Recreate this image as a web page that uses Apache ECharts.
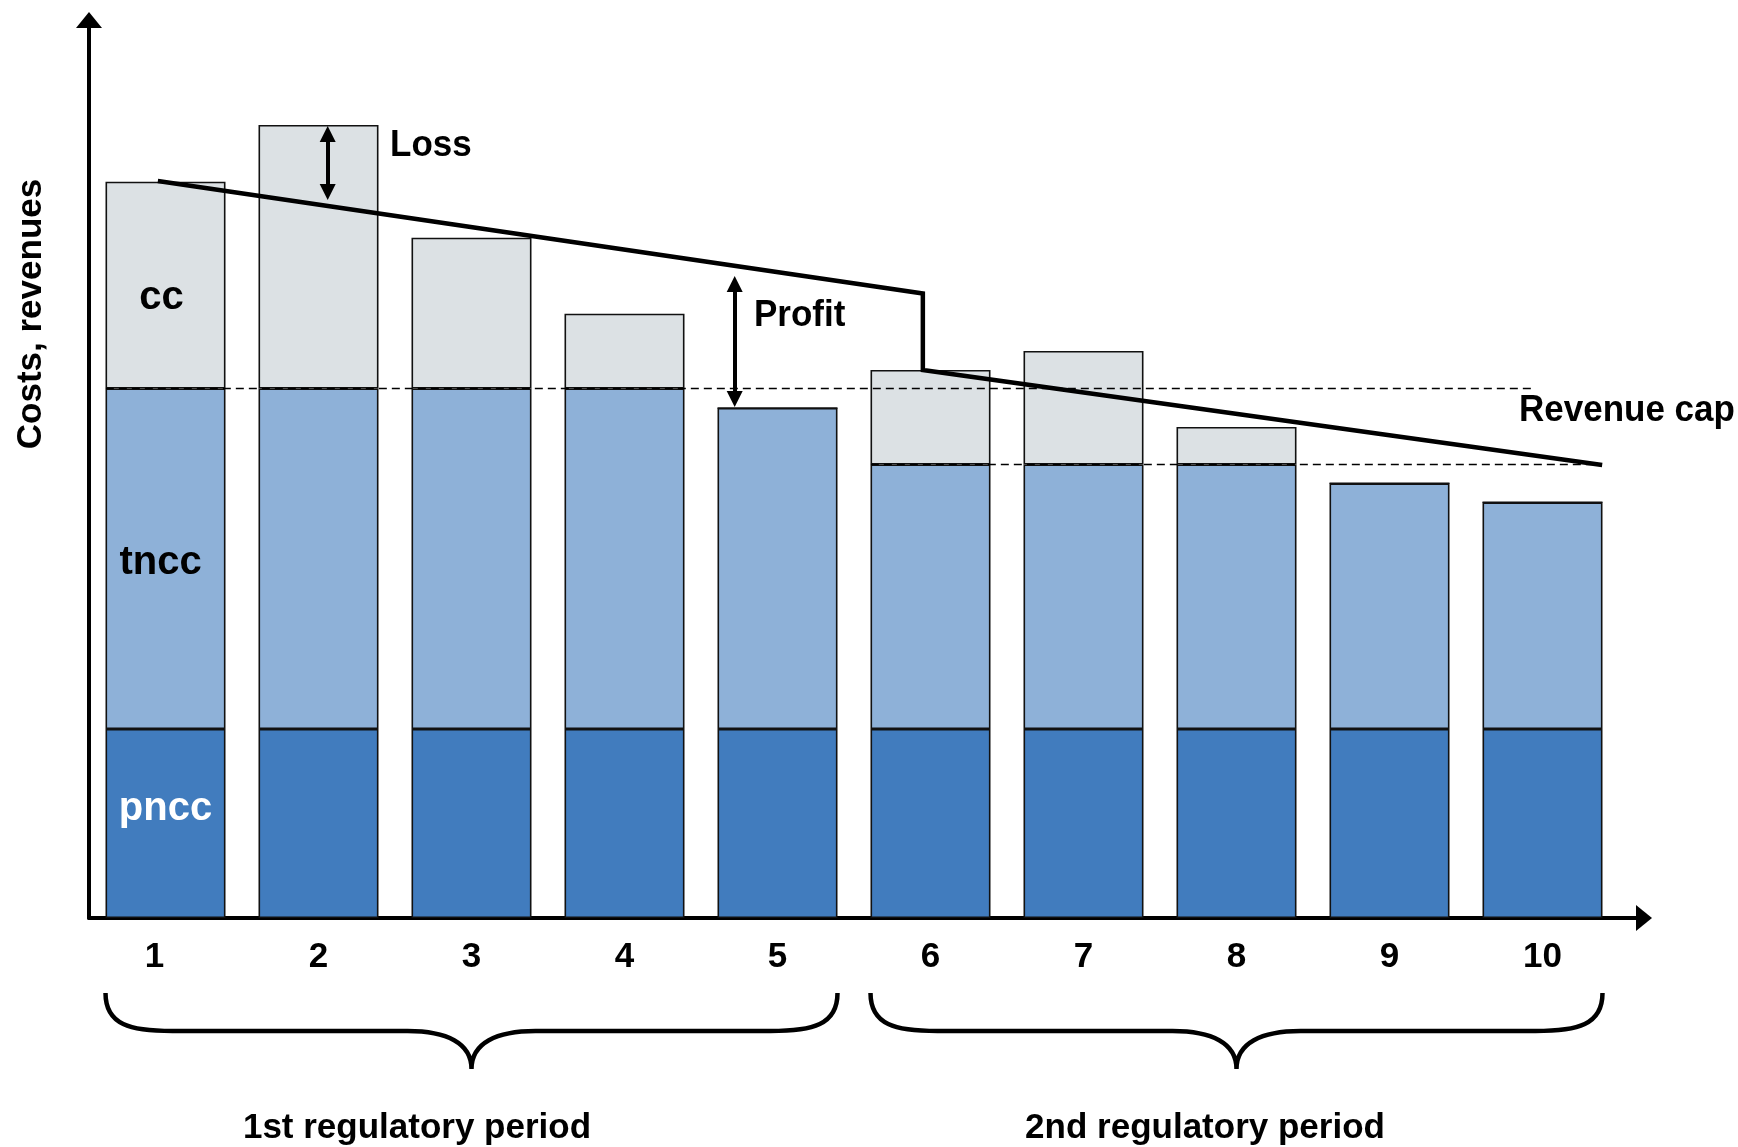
<!DOCTYPE html>
<html><head><meta charset="utf-8">
<script src="https://cdn.jsdelivr.net/npm/echarts@6/dist/echarts.min.js"></script>
<style>html,body{margin:0;padding:0;background:#fff}#c{width:1738px;height:1147px}</style>
</head><body><div id="c"></div>
<script>
// ---- data ----
const years = ['1','2','3','4','5','6','7','8','9','10'];
const pncc = [18.9,18.9,18.9,18.9,18.9,18.9,18.9,18.9,18.9,18.9];
const tncc = [34.05,34.05,34.05,34.05,32.1,26.45,26.45,26.45,24.57,22.67];
const cc   = [20.68,26.35,15.08,7.48,0,9.45,11.35,3.75,0,0];
// revenue cap path (x in year-index units, y in value units)
const capX = [-0.05,4.95,4.95,9.39];
const capY = [73.7,62.45,54.8,45.3];
// dashed reference levels
const levelY    = [52.95,45.35];
const levelFrom = [-0.39,4.61];
const levelTo   = [8.94,9.35];
// loss / profit arrows (x index, top value, bottom value)
const arrowX   = [1.06,3.72];
const arrowTop = [79.2,64.2];
const arrowBot = [71.8,51.1];
// regulatory periods
const periodNames = ['1st regulatory period','2nd regulatory period'];
const periodFrom  = [0,5];
const periodTo    = [4,9];

const FONT = 'Liberation Sans';
const FS = 35;
const BAR_W = 120;
const border = {borderColor:'#111', borderWidth:1.6};

const chart = echarts.init(document.getElementById('c'), null, {renderer:'canvas'});

function labelItem(val, text, color, offset){
  return {value: val, label: {show:true, position:'inside', formatter:text, color:color,
    fontFamily:FONT, fontWeight:'bold', fontSize:40, offset:offset}};
}
const pnccData = pncc.map((v,i)=> i===0 ? labelItem(v,'pncc','#fff',[0,-15]) : v);
const tnccData = tncc.map((v,i)=> i===0 ? labelItem(v,'tncc','#000',[-5,4]) : v);
const ccData   = cc.map((v,i)=> i===0 ? labelItem(v,'cc','#000',[-4,13]) : v);

const arrowLines = arrowX.map((x,i)=>[
  {coord:[x, arrowTop[i]-0.8]}, {coord:[x, arrowBot[i]+0.8]}
]);

const xCats = years.map((y,i)=> i===0 ? {value:y, textStyle:{padding:[0,22,0,0]}} : y);

function renderBrace(params, api){
  const a = api.value(0), b = api.value(1);
  const L = api.coord([a,0])[0] - BAR_W/2;
  const R = api.coord([b,0])[0] + BAR_W/2;
  const base = api.coord([0,0])[1];
  const C = (L+R)/2;
  const y0 = base+75, y1 = base+113, y2 = base+151;
  const p = [
    'M',L,y0,'C',L,y0+32,L+25,y1,L+67,y1,
    'L',C-64,y1,'C',C-25,y1,C,y1+12,C,y2,
    'M',C,y2,'C',C,y1+12,C+25,y1,C+64,y1,
    'L',R-67,y1,'C',R-25,y1,R,y0+32,R,y0
  ].join(' ');
  return {type:'path', shape:{pathData:p}, style:{fill:null, stroke:'#000', lineWidth:4.5}};
}

const txt = (t, x, y, align, extra) => Object.assign({
  type:'text', x:x, y:y, z:100,
  style:{text:t, fill:'#000', font:'bold '+FS+'px "'+FONT+'"', textAlign:align||'left', textVerticalAlign:'middle'}
}, extra||{});

chart.setOption({
  animation:false,
  backgroundColor:'#fff',
  grid:[
    {left:89, right:119, top:18, bottom:229},
    {left:89, right:94, top:20, bottom:229}
  ],
  xAxis:[
    {gridIndex:0, type:'category', data:xCats, boundaryGap:true,
     axisLine:{show:false}, axisTick:{show:false},
     axisLabel:{color:'#000', fontFamily:FONT, fontWeight:'bold', fontSize:FS, margin:22}},
    {gridIndex:0, type:'value', min:-0.5, max:9.5, show:false},
    {gridIndex:1, type:'value', min:0, max:1,
     axisLine:{show:true, onZero:false, symbol:['none','triangle'], symbolSize:[26,16], lineStyle:{color:'#000', width:4}},
     axisTick:{show:false}, axisLabel:{show:false}, splitLine:{show:false}}
  ],
  yAxis:[
    {gridIndex:0, type:'value', min:0, max:90, show:false},
    {gridIndex:1, type:'value', min:0, max:1,
     axisLine:{show:true, onZero:false, symbol:['none','triangle'], symbolSize:[26,16], lineStyle:{color:'#000', width:4}},
     axisTick:{show:false}, axisLabel:{show:false}, splitLine:{show:false}}
  ],
  series:[
    {name:'pncc', type:'bar', stack:'c', xAxisIndex:0, yAxisIndex:0, barWidth:BAR_W, data:pnccData,
     itemStyle:Object.assign({color:'#417CBE'}, border), z:2, silent:true},
    {name:'tncc', type:'bar', stack:'c', xAxisIndex:0, yAxisIndex:0, barWidth:BAR_W, data:tnccData,
     itemStyle:Object.assign({color:'#8EB1D8'}, border), z:2, silent:true},
    {name:'cc', type:'bar', stack:'c', xAxisIndex:0, yAxisIndex:0, barWidth:BAR_W, data:ccData,
     itemStyle:Object.assign({color:'#DCE1E4'}, border), z:2, silent:true},
    ...levelY.map((y,i)=>({
      type:'line', xAxisIndex:1, yAxisIndex:0, data:[[levelFrom[i],y],[levelTo[i],y]],
      symbol:'none', lineStyle:{color:'#000', width:1.5, type:[8,5]}, z:3, silent:true
    })),
    {name:'Revenue cap', type:'line', xAxisIndex:1, yAxisIndex:0,
     data:capX.map((x,i)=>[x,capY[i]]), symbol:'none',
     lineStyle:{color:'#000', width:4.5, join:'miter'}, z:4, silent:true},
    {type:'line', xAxisIndex:1, yAxisIndex:0, data:[], z:5, silent:true,
     markLine:{silent:true, symbol:['triangle','triangle'], symbolSize:[16,16],
       label:{show:false}, lineStyle:{color:'#000', width:4, type:'solid'},
       emphasis:{disabled:true}, data:arrowLines}},
    {type:'custom', xAxisIndex:1, yAxisIndex:0, renderItem:renderBrace, clip:false, silent:true,
     data:periodFrom.map((f,i)=>[f, periodTo[i]])}
  ],
  graphic:[
    txt('Loss', 390, 146, 'left', {scaleY:1.08}),
    txt('Profit', 754, 316, 'left', {scaleY:1.08}),
    txt('Revenue cap', 1519, 411, 'left', {scaleY:1.06}),
    txt(periodNames[0], 417, 1128, 'center'),
    txt(periodNames[1], 1205, 1128, 'center'),
    txt('Costs, revenues', 31, 314, 'center', {rotation:Math.PI/2})
  ]
});
</script>
</body></html>
